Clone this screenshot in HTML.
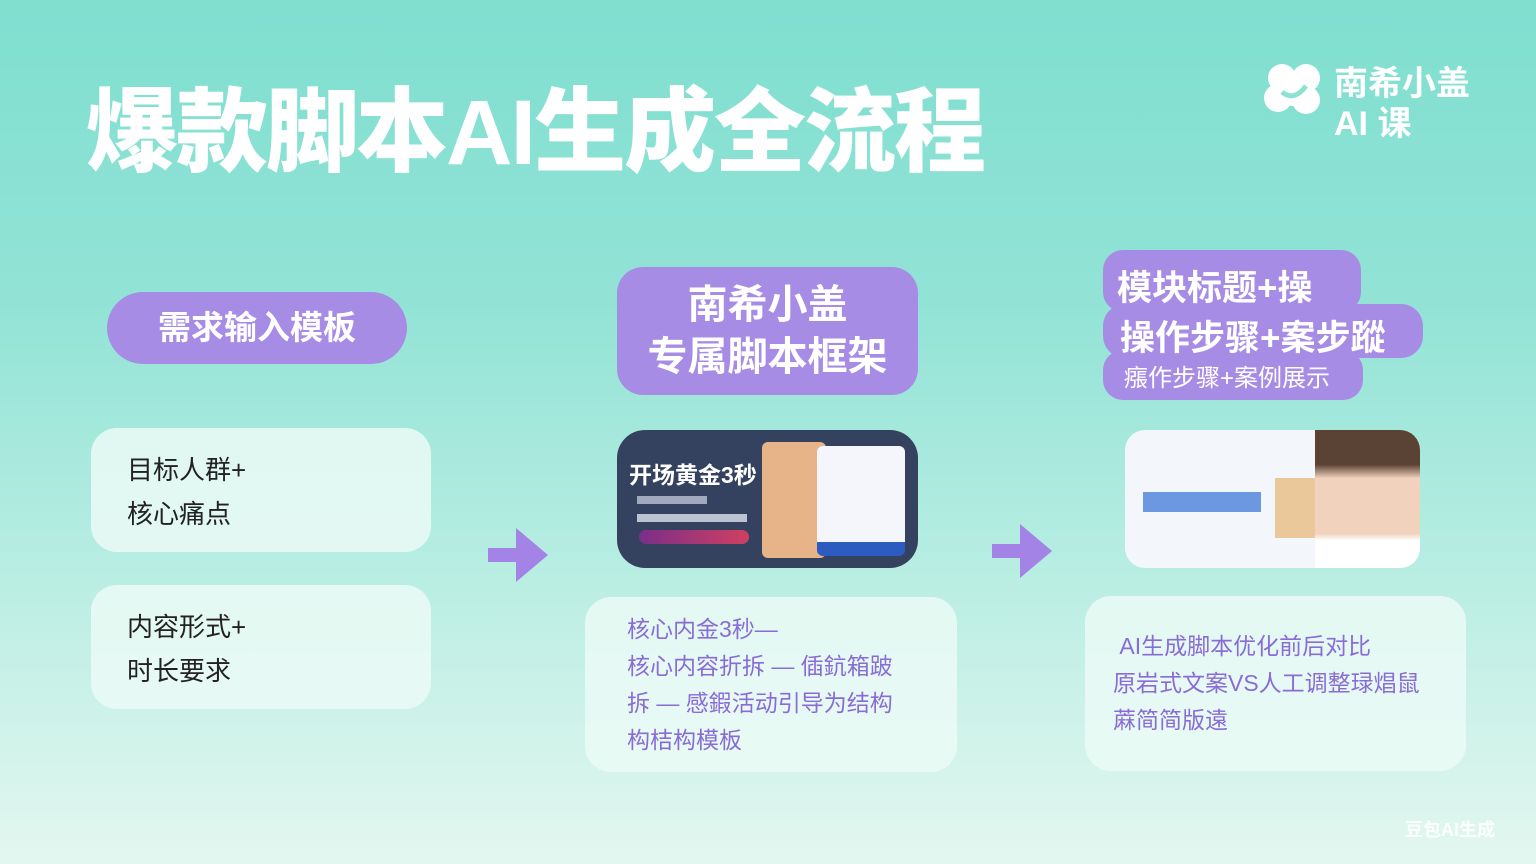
<!DOCTYPE html>
<html><head><meta charset="utf-8"><style>
*{margin:0;padding:0;box-sizing:border-box}
body{width:1536px;height:864px;overflow:hidden;position:relative;background:linear-gradient(180deg,#7fdfcf 0%,#92e3d6 35%,#b7ede2 65%,#e3f7f0 100%);font-family:"Liberation Sans","Noto Sans CJK SC",sans-serif}
.a{position:absolute}
.title{left:86px;top:58px;font-size:92px;font-weight:900;color:#fff;letter-spacing:-2px;white-space:nowrap}
.pill{background:#a78ce6;color:#fff;font-weight:700;text-align:center}
.card{background:rgba(235,250,246,.85);border-radius:26px}
.ct{font-size:26px;color:#222;line-height:44px}
.pt{color:#8a6cd6;font-size:23px;line-height:37px;white-space:nowrap}
</style></head><body>
<div class="a title">爆款脚本AI生成全流程</div>
<svg class="a" style="left:1262px;top:62px" width="66" height="56" viewBox="0 0 66 56"><circle cx="20" cy="16" r="14" fill="#fff"/><circle cx="44" cy="16" r="14" fill="#fff"/><circle cx="16" cy="36" r="14" fill="#fff"/><circle cx="44" cy="38" r="14" fill="#fff"/><circle cx="30" cy="28" r="16" fill="#fff"/><path d="M20 30 Q32 40 44 24" stroke="#8ee2d4" stroke-width="5" fill="none"/></svg>
<div class="a" style="left:1334px;top:64px;color:#fff;font-size:34px;font-weight:700;line-height:40px;white-space:nowrap">南希小盖<br>AI 课</div>

<div class="a pill" style="left:107px;top:292px;width:300px;height:72px;border-radius:36px;font-size:33px;line-height:72px">需求输入模板</div>
<div class="a card" style="left:91px;top:428px;width:340px;height:124px;padding:20px 36px"><div class="ct">目标人群+<br>核心痛点</div></div>
<div class="a card" style="left:91px;top:585px;width:340px;height:124px;padding:20px 36px"><div class="ct">内容形式+<br>时长要求</div></div>

<svg class="a" style="left:486px;top:522px" width="66" height="66"><path d="M2 26 H30 V6 L62 33 L30 60 V40 H2 Z" fill="#a383e6"/></svg>
<svg class="a" style="left:990px;top:518px" width="66" height="66"><path d="M2 26 H30 V6 L62 33 L30 60 V40 H2 Z" fill="#a383e6"/></svg>

<div class="a pill" style="left:617px;top:267px;width:301px;height:128px;border-radius:26px;font-size:40px;line-height:52px;padding-top:12px">南希小盖<br>专属脚本框架</div>
<div class="a" style="left:617px;top:430px;width:301px;height:138px;border-radius:28px;background:#34425f;overflow:hidden">
<div class="a" style="left:12px;top:26px;color:#fff;font-size:23px;font-weight:700">开场黄金3秒</div>
<div class="a" style="left:20px;top:66px;width:70px;height:8px;background:#cfd6e6;opacity:.7"></div>
<div class="a" style="left:20px;top:84px;width:110px;height:8px;background:#dde2ee;opacity:.8"></div>
<div class="a" style="left:22px;top:100px;width:110px;height:14px;border-radius:7px;background:linear-gradient(90deg,#7a2e8a,#d04060)"></div>
<div class="a" style="left:145px;top:12px;width:64px;height:116px;border-radius:6px;background:#e7b48a"></div>
<div class="a" style="left:200px;top:16px;width:88px;height:110px;border-radius:6px;background:#f4f6fb;border-bottom:14px solid #2c5cc0"></div>
</div>
<div class="a card" style="left:585px;top:597px;width:372px;height:175px;padding:14px 0 0 42px"><div class="pt">核心内金3秒—<br>核心内容折拆 — 偛鈧箱跛<br>拆 — 感鍜活动引导为结构<br>构桔构模板</div></div>

<div class="a pill" style="left:1103px;top:250px;width:258px;height:62px;border-radius:20px"></div>
<div class="a pill" style="left:1103px;top:304px;width:320px;height:54px;border-radius:22px"></div>
<div class="a pill" style="left:1103px;top:350px;width:260px;height:50px;border-radius:20px"></div>
<div class="a" style="left:1117px;top:260px;color:#fff;font-weight:700;font-size:35px;white-space:nowrap">模块标题+操</div>
<div class="a" style="left:1120px;top:310px;color:#fff;font-weight:700;font-size:35px;white-space:nowrap">操作步骤+案步蹤</div>
<div class="a" style="left:1124px;top:358px;color:#fff;font-size:24px;white-space:nowrap">瘬作步骤+案例展示</div>
<div class="a" style="left:1125px;top:430px;width:295px;height:138px;border-radius:20px;background:#f3f6fa;overflow:hidden">
<div class="a" style="left:18px;top:62px;width:118px;height:20px;background:#6b98e0"></div>
<div class="a" style="left:150px;top:48px;width:60px;height:60px;background:#eac89a"></div>
<div class="a" style="left:190px;top:0;width:105px;height:138px;background:linear-gradient(180deg,#5a4235 0,#5a4235 25%,#f1d2bc 35%,#f1d2bc 75%,#fff 80%)"></div>
</div>
<div class="a card" style="left:1085px;top:596px;width:381px;height:175px;padding:32px 0 0 28px"><div class="pt" style="line-height:37px">&nbsp;AI生成脚本优化前后对比<br>原岩式文案VS人工调整琭焻鼠<br>蔴简简版遠</div></div>

<div class="a" style="left:1405px;top:816px;color:#fff;font-size:18px;font-weight:700;opacity:.9">豆包AI生成</div>
</body></html>
